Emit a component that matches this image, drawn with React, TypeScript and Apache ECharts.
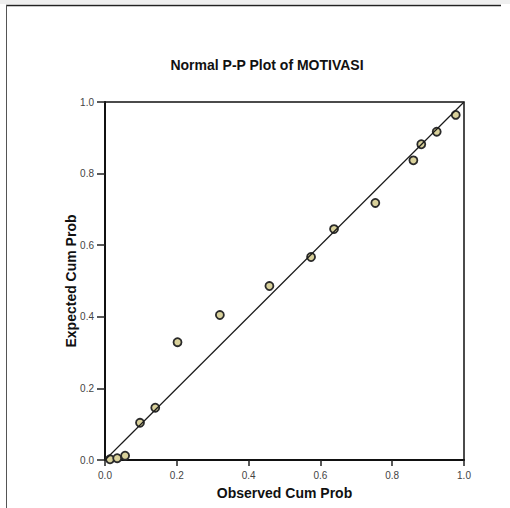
import React, { useEffect, useRef } from "react";
import * as echarts from "echarts";

const titleText = "Normal P-P Plot of MOTIVASI";
const xName = "Observed Cum Prob";
const yName = "Expected Cum Prob";
const observed = [0.014, 0.034, 0.056, 0.0975, 0.14, 0.202, 0.32, 0.458, 0.574, 0.638, 0.753, 0.859, 0.881, 0.924, 0.977];
const expected = [0.002, 0.005, 0.012, 0.104, 0.146, 0.329, 0.405, 0.486, 0.567, 0.645, 0.718, 0.837, 0.882, 0.917, 0.964];
const refLine = [[0, 0], [1, 1]];

export default function App() {
  const ref = useRef<HTMLDivElement>(null);
  useEffect(() => {
    if (!ref.current) return;
    const chart = echarts.init(ref.current, null, { renderer: "svg" });
    const font = "'Liberation Sans', Arial, sans-serif";
    chart.setOption({
      animation: false,
      backgroundColor: "#ffffff",
      title: {
        text: titleText,
        left: 262,
        top: 53,
        textAlign: "center",
        textStyle: { fontFamily: font, fontWeight: "bold", fontSize: 14, color: "#111" },
      },
      grid: { left: 105, top: 102, right: 46, bottom: 48, show: true, borderColor: "#111", borderWidth: 1.5 },
      xAxis: {
        type: "value",
        min: 0,
        max: 1,
        interval: 0.2,
        name: xName,
        nameLocation: "middle",
        nameGap: 26,
        nameTextStyle: { fontFamily: font, fontWeight: "bold", fontSize: 14, color: "#111" },
        axisLine: { show: true, lineStyle: { color: "#111", width: 2 } },
        axisTick: { show: true, inside: false, length: 6, lineStyle: { color: "#222", width: 1.5 } },
        axisLabel: { fontFamily: font, fontSize: 10, color: "#444", margin: 10, formatter: (v: number) => v.toFixed(1) },
        splitLine: { show: false },
      },
      yAxis: {
        type: "value",
        min: 0,
        max: 1,
        interval: 0.2,
        name: yName,
        nameLocation: "middle",
        nameGap: 27,
        nameMoveOverlap: false,
        nameTextStyle: { fontFamily: font, fontWeight: "bold", fontSize: 14, color: "#111" },
        axisLine: { show: true, lineStyle: { color: "#111", width: 2 } },
        axisTick: { show: true, inside: false, length: 8, lineStyle: { color: "#222", width: 1.5 } },
        axisLabel: { fontFamily: font, fontSize: 10, color: "#444", margin: 11, formatter: (v: number) => v.toFixed(1) },
        splitLine: { show: false },
      },
      graphic: [
        { type: "rect", shape: { x: 0, y: 0, width: 510, height: 4 }, style: { fill: "#efefef" }, silent: true },
        { type: "line", shape: { x1: 6, y1: 5.5, x2: 501, y2: 5.5 }, style: { stroke: "#222", lineWidth: 1.5 }, silent: true },
        { type: "line", shape: { x1: 6.5, y1: 5, x2: 6.5, y2: 508 }, style: { stroke: "#555", lineWidth: 1 }, silent: true },
      ],
      series: [
        {
          type: "scatter",
          data: observed.map((x, i) => [x, expected[i]]),
          symbol: "circle",
          symbolSize: 8,
          itemStyle: { color: "#d9d19b", borderColor: "#2a2a2a", borderWidth: 1.8, opacity: 1 },
          z: 2,
        },
        {
          type: "line",
          data: refLine,
          symbol: "none",
          lineStyle: { color: "#1a1a1a", width: 1.2 },
          z: 3,
        },
      ],
    });
    return () => chart.dispose();
  }, []);
  return (
    <div
      ref={ref}
      style={{ position: "absolute", left: 0, top: 0, width: 510, height: 508 }}
    />
  );
}
